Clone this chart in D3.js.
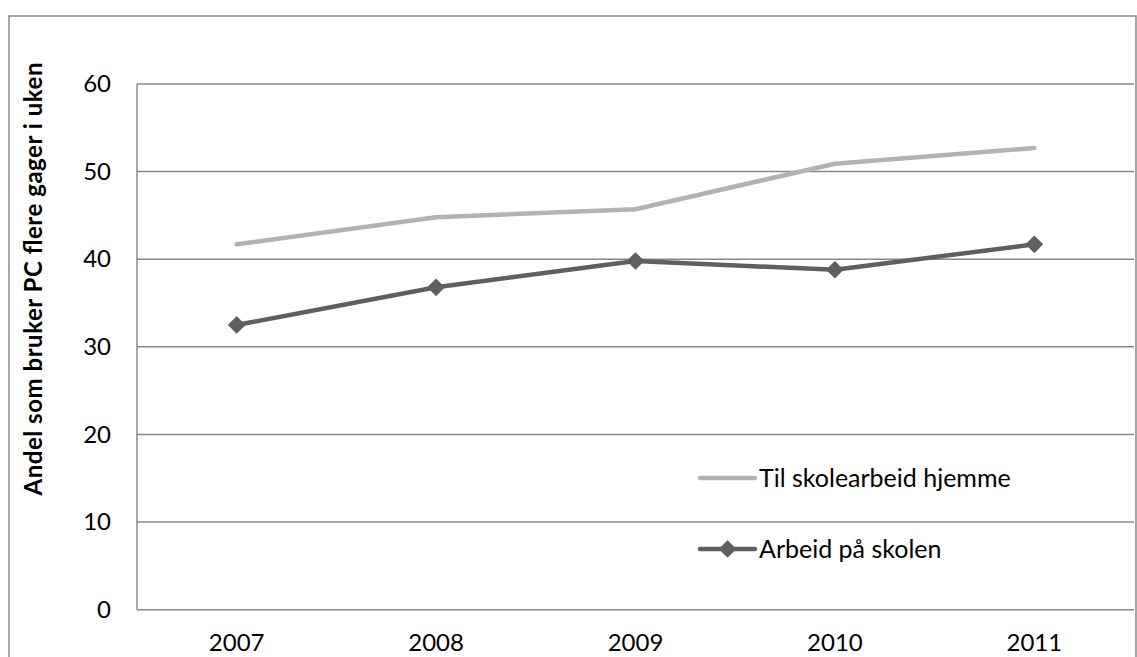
<!DOCTYPE html>
<html>
<head>
<meta charset="utf-8">
<script src="https://cdn.jsdelivr.net/npm/d3@7"></script>
<style>
  html, body { margin: 0; padding: 0; background: #fff; }
  svg { display: block; }
  text { font-family: Lato, "Open Sans", sans-serif; fill: #000; }
</style>
</head>
<body>
<svg id="chart" width="1137" height="657"></svg>
<script>
const years = ["2007", "2008", "2009", "2010", "2011"];
const hjemme = [41.7, 44.8, 45.7, 50.9, 52.7];
const skolen = [32.5, 36.8, 39.8, 38.8, 41.7];
const yTicks = [0, 10, 20, 30, 40, 50, 60];
const seriesNames = ["Til skolearbeid hjemme", "Arbeid på skolen"];
const yTitle = "Andel som bruker PC flere gager i uken";

const svg = d3.select("#chart");
const plot = { left: 137, right: 1134, top: 84, bottom: 609.7 };
const FS = 24;

// outer border
svg.append("rect")
  .attr("x", 9).attr("y", 16)
  .attr("width", 1127).attr("height", 660)
  .attr("fill", "none").attr("stroke", "#8a8a8a").attr("stroke-width", 1.5);

const x = d3.scaleBand().domain(years).range([plot.left, plot.right]);
const y = d3.scaleLinear().domain([0, 60]).range([plot.bottom, plot.top]);

// gridlines
svg.append("g").selectAll("line").data(yTicks).join("line")
  .attr("x1", plot.left).attr("x2", plot.right)
  .attr("y1", d => y(d)).attr("y2", d => y(d))
  .attr("stroke", "#888").attr("stroke-width", 1.5);

// left axis line
svg.append("line")
  .attr("x1", plot.left).attr("x2", plot.left)
  .attr("y1", plot.top).attr("y2", plot.bottom)
  .attr("stroke", "#888").attr("stroke-width", 1.5);

// y tick labels
const yAxis = d3.axisLeft(y).tickValues(yTicks).tickSize(0).tickPadding(26);
const gy = svg.append("g").attr("transform", `translate(${plot.left},0)`).call(yAxis);
gy.select(".domain").remove();
gy.selectAll("text").attr("font-size", FS).attr("font-family", "Lato, sans-serif").attr("fill", "#000");

// x tick labels
const xAxis = d3.axisBottom(x).tickSize(0).tickPadding(24);
const gx = svg.append("g").attr("transform", `translate(0,${plot.bottom})`).call(xAxis);
gx.select(".domain").remove();
gx.selectAll("text").attr("font-size", FS).attr("font-family", "Lato, sans-serif").attr("fill", "#000");

// y title
svg.append("text")
  .attr("transform", `translate(42,279) rotate(-90)`)
  .attr("text-anchor", "middle")
  .attr("font-size", 24).attr("font-weight", "bold")
  .attr("textLength", 433).attr("lengthAdjust", "spacing")
  .text(yTitle);

const cx = d => x(d) + x.bandwidth() / 2;
const line = d3.line().x(d => cx(d.year)).y(d => y(d.v));

const lightColor = "#b2b2b4";
const darkColor = "#5f5f5f";

svg.append("path")
  .datum(years.map((yr, i) => ({ year: yr, v: hjemme[i] })))
  .attr("d", line).attr("fill", "none")
  .attr("stroke", lightColor).attr("stroke-width", 4.5)
  .attr("stroke-linecap", "round").attr("stroke-linejoin", "round");

const darkData = years.map((yr, i) => ({ year: yr, v: skolen[i] }));
svg.append("path")
  .datum(darkData)
  .attr("d", line).attr("fill", "none")
  .attr("stroke", darkColor).attr("stroke-width", 4.5)
  .attr("stroke-linecap", "round").attr("stroke-linejoin", "round");

const diamond = d3.symbol().type(d3.symbolDiamond2).size(200);
svg.append("g").selectAll("path").data(darkData).join("path")
  .attr("d", diamond)
  .attr("transform", d => `translate(${cx(d.year)},${y(d.v)})`)
  .attr("fill", darkColor);

// legend
const legend = svg.append("g");
const lx1 = 700, lx2 = 755;
const legY = [478, 549];
legend.append("line").attr("x1", lx1).attr("x2", lx2).attr("y1", legY[0]).attr("y2", legY[0])
  .attr("stroke", lightColor).attr("stroke-width", 4.5).attr("stroke-linecap", "round");
legend.append("line").attr("x1", lx1).attr("x2", lx2).attr("y1", legY[1]).attr("y2", legY[1])
  .attr("stroke", darkColor).attr("stroke-width", 4.5).attr("stroke-linecap", "round");
legend.append("path").attr("d", diamond)
  .attr("transform", `translate(${(lx1 + lx2) / 2},${legY[1]})`).attr("fill", darkColor);
legend.selectAll("text").data(seriesNames).join("text")
  .attr("x", 759).attr("y", (d, i) => legY[i])
  .attr("dy", "0.35em").attr("font-size", 25)
  .text(d => d);
</script>
</body>
</html>
